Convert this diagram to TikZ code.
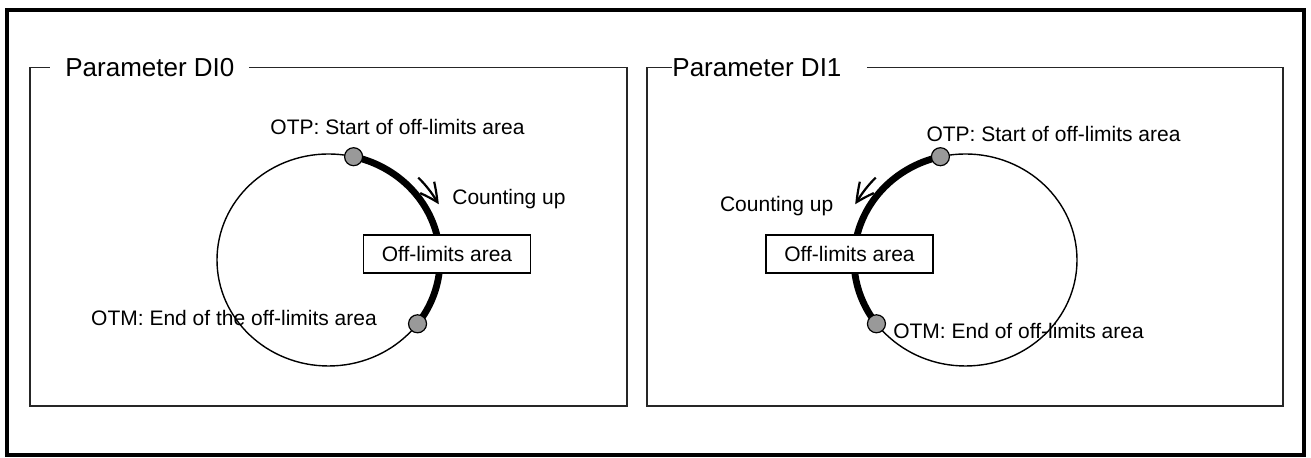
\documentclass[tikz,border=0pt]{standalone}
\usepackage{fontspec}
\setmainfont{Liberation Sans}
\usetikzlibrary{arrows.meta,shapes.geometric,bending}

\begin{document}
\begin{tikzpicture}[
x=0.5pt, y=0.5pt,
txt/.style={inner sep=0pt, anchor=base, font=\fontsize{10.5}{12}\selectfont},
titlebox/.style={inner sep=0pt, anchor=west, font=\fontsize{13}{15}\selectfont},
panel/.style={draw=black!85, line width=0.8pt},
ring/.style={ellipse, draw, line width=0.7pt, minimum width=111.5pt, minimum height=106pt, inner sep=0pt, outer sep=0pt},
ptdot/.style={circle, draw, line width=0.6pt, fill=black!40, minimum size=9pt, inner sep=0pt},
areabox/.style={draw, fill=white, line width=0.75pt, minimum width=83.5pt, minimum height=19pt, inner sep=0pt, font=\fontsize{10.5}{12}\selectfont},
thickarc/.style={line width=3.4pt},
countarrow/.style={-{Straight Barb[length=9pt, width=9pt, bend]}, line width=1.1pt}
]
\useasboundingbox (0,0) rectangle (1311,458);
\draw[line width=2pt] (7,448) rectangle (1303.5,2.5);

% left panel
\node[titlebox] (titleL) at (65,390.5) {Parameter DI0};
\draw[panel] (30,390.5) -- ([xshift=-7.5pt]titleL.west);
\draw[panel] ([xshift=7pt]titleL.east) -- (627,390.5) -- (627,52) -- (30,52) -- (30,390.5);

\node[ring] (ringL) at (328.5,198) {};
\coordinate (otpL) at ([shift={(77:55.75pt and 53pt)}]ringL.center);
\coordinate (otmL) at ([shift={(-37:55.75pt and 53pt)}]ringL.center);
\draw[thickarc] (otpL) arc[start angle=77, end angle=-37, x radius=55.75pt, y radius=53pt];
\draw[countarrow] ([shift={(44:62.4pt and 59.3pt)}]ringL.center) arc[start angle=44, end angle=28, x radius=62.4pt, y radius=59.3pt];
\node[areabox] (areaL) at (447,204) {Off-limits area};
\node[ptdot] (dotpL) at (otpL) {};
\node[ptdot] (dotmL) at (otmL) {};
\node[txt] (otplabL) at (397.5,323) {OTP: Start of off-limits area};
\node[txt] (countL) at (509,253) {Counting up};
\node[txt] (otmlabL) at (234,132) {OTM: End of the off-limits area};

% right panel
\node[titlebox] (titleR) at (672,390.5) {Parameter DI1};
\draw[panel] (647,390.5) -- (titleR.west);
\draw[panel] ([xshift=12.5pt]titleR.east) -- (1283,390.5) -- (1283,52) -- (647,52) -- (647,390.5);

\node[ring] (ringR) at (965.5,198) {};
\coordinate (otpR) at ([shift={(103:55.75pt and 53pt)}]ringR.center);
\coordinate (otmR) at ([shift={(217:55.75pt and 53pt)}]ringR.center);
\draw[thickarc] (otpR) arc[start angle=103, end angle=217, x radius=55.75pt, y radius=53pt];
\draw[countarrow] ([shift={(136:62.4pt and 59.3pt)}]ringR.center) arc[start angle=136, end angle=152, x radius=62.4pt, y radius=59.3pt];
\node[areabox] (areaR) at (849.5,204) {Off-limits area};
\node[ptdot] (dotpR) at (otpR) {};
\node[ptdot] (dotmR) at (otmR) {};
\node[txt] (otplabR) at (1053.5,316) {OTP: Start of off-limits area};
\node[txt] (countR) at (776.7,246.3) {Counting up};
\node[txt] (otmlabR) at (1018.5,119) {OTM: End of off-limits area};
\end{tikzpicture}
\end{document}
